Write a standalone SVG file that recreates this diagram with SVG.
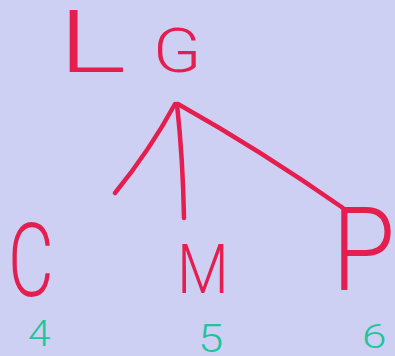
<svg xmlns="http://www.w3.org/2000/svg" width="395" height="356" viewBox="0 0 395 356">
<style>
.ink{fill:#e41e4e;font-family:Roboto,"Open Sans","Liberation Sans",sans-serif;font-weight:300}
.num{fill:#1fc49a;font-family:Roboto,"Open Sans","Liberation Sans",sans-serif;font-weight:300}
.edge{fill:none;stroke:#e41e4e;stroke-width:4.5;stroke-linecap:round;stroke-linejoin:round}
</style>
<rect width="395" height="356" fill="#cdd0f3"/>
<g id="connectors">
<path class="edge" d="M175 104 Q150 150 115 193"/>
<path class="edge" d="M177 104 Q183 160 184 218"/>
<path class="edge" d="M178 104 Q260 150 343 208"/>
</g>
<g id="node-L"><text class="ink" x="0" y="0" font-size="72" transform="translate(58 72) scale(1.8 1.22)">L</text></g>
<g id="node-G"><text class="ink" x="0" y="0" font-size="60" transform="translate(153 72) scale(1.18 1.02)">G</text></g>
<g id="node-C"><text class="ink" x="0" y="0" font-size="80" transform="translate(8 296) scale(0.88 1.28)">C</text></g>
<g id="node-M"><text class="ink" x="0" y="0" font-size="68" transform="translate(177 293) scale(0.88 1.0)">M</text></g>
<g id="node-P"><text class="ink" x="0" y="0" font-size="90" transform="translate(332 290) scale(1.14 1.3)">P</text></g>
<g id="label-4"><text class="num" x="0" y="0" font-size="37" transform="translate(28 346) scale(1.1 1)">4</text></g>
<g id="label-5"><text class="num" x="0" y="0" font-size="38" transform="translate(198 352) scale(1.2 1)">5</text></g>
<g id="label-6"><text class="num" x="0" y="0" font-size="34" transform="translate(362 348) scale(1.3 1)">6</text></g>
</svg>
